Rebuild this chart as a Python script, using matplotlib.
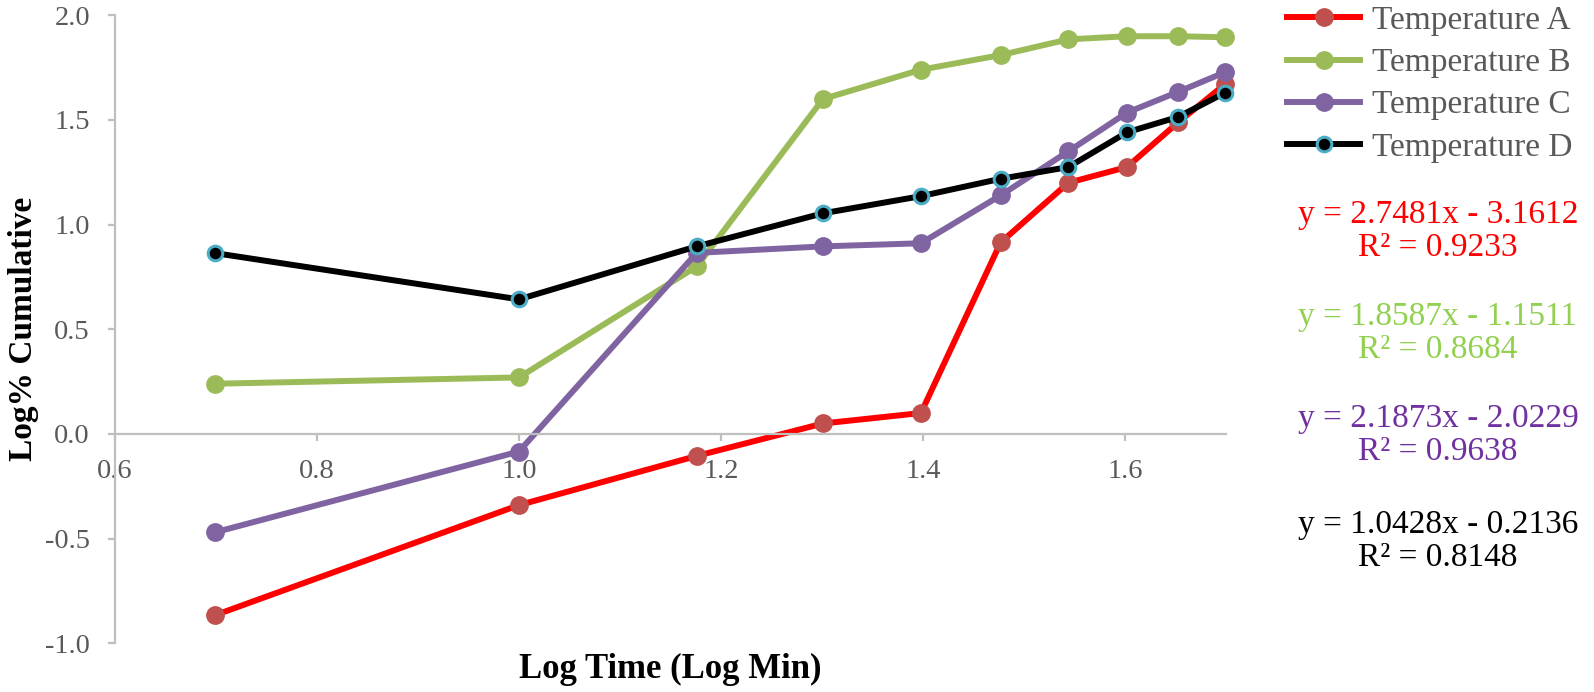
import matplotlib
matplotlib.use("Agg")
import matplotlib.pyplot as plt
from matplotlib.ticker import FormatStrFormatter, MultipleLocator

plt.rcParams['font.family'] = ['Liberation Serif', 'DejaVu Serif']

# log10 of time in minutes (5, 10, ..., 50)
log_time = [0.699, 1.0, 1.176, 1.301, 1.398, 1.477, 1.544, 1.602, 1.653, 1.699]

temp_a = [-0.866, -0.34, -0.105, 0.05, 0.10, 0.915, 1.20, 1.275, 1.49, 1.67]
temp_b = [0.24, 0.27, 0.80, 1.60, 1.74, 1.81, 1.885, 1.90, 1.90, 1.895]
temp_c = [-0.47, -0.084, 0.865, 0.896, 0.911, 1.14, 1.35, 1.535, 1.635, 1.728]
temp_d = [0.864, 0.643, 0.896, 1.054, 1.136, 1.219, 1.275, 1.441, 1.515, 1.63]

series_names = ['Temperature A', 'Temperature B', 'Temperature C', 'Temperature D']
equations = ['y = 2.7481x - 3.1612\nR² = 0.9233',
             'y = 1.8587x - 1.1511\nR² = 0.8684',
             'y = 2.1873x - 2.0229\nR² = 0.9638',
             'y = 1.0428x - 0.2136\nR² = 0.8148']

fig = plt.figure(figsize=(15.94, 6.92), dpi=100)
ax = fig.add_axes([0.0721, 0.0704, 0.697, 0.9075])

lw = 4.3
ax.plot(log_time, temp_a, color='#FF0000', lw=lw, marker='o', ms=12.5,
        mfc='#C0504D', mec='#C0504D', label=series_names[0], clip_on=False)
ax.plot(log_time, temp_b, color='#9BBB59', lw=lw, marker='o', ms=12.5,
        mfc='#9BBB59', mec='#9BBB59', label=series_names[1], clip_on=False)
ax.plot(log_time, temp_c, color='#8064A2', lw=lw, marker='o', ms=12.5,
        mfc='#8064A2', mec='#8064A2', label=series_names[2], clip_on=False)
ax.plot(log_time, temp_d, color='#000000', lw=lw, marker='o', ms=10.5,
        mfc='#000000', mec='#4BACC6', mew=2.2, label=series_names[3], clip_on=False)

ax.set_xlim(0.6, 1.7)
ax.set_ylim(-1.0, 2.0)
ax.xaxis.set_major_locator(MultipleLocator(0.2))
ax.yaxis.set_major_locator(MultipleLocator(0.5))
ax.xaxis.set_major_formatter(FormatStrFormatter('%.1f'))
ax.yaxis.set_major_formatter(FormatStrFormatter('%.1f'))

for side in ['top', 'right']:
    ax.spines[side].set_visible(False)
ax.spines['bottom'].set_position(('data', 0))
for side in ['left', 'bottom']:
    ax.spines[side].set_color('#BFBFBF')
    ax.spines[side].set_linewidth(1.6)

ax.tick_params(axis='both', direction='out', length=5, width=1.6, color='#BFBFBF',
               labelsize=20.5, labelcolor='#595959')
ax.tick_params(axis='x', pad=13)
ax.tick_params(axis='y', pad=13)

ax.set_xlabel('Log Time (Log Min)', fontsize=25, fontweight='bold')
ax.xaxis.set_label_coords(0.5, -0.015)
ax.set_ylabel('Log% Cumulative', fontsize=24, fontweight='bold')
ax.yaxis.set_label_coords(-0.068, 0.5)

ax.legend(loc='upper left', bbox_to_anchor=(0.8074, 0.992), bbox_transform=fig.transFigure,
          frameon=False, fontsize=24, handlelength=2.2, handletextpad=0.36,
          labelspacing=0.35, borderpad=0, borderaxespad=0, labelcolor='#595959')

eq_colors = ['#FF0000', '#92D050', '#7030A0', '#000000']
eq_y = [231, 333, 435, 541]
for text, c, yp in zip(equations, eq_colors, eq_y):
    fig.text(0.9021, 1 - yp / 692, text, color=c, fontsize=24, ha='center',
             va='center', linespacing=1.12)

fig.savefig('out.png', dpi=100)
